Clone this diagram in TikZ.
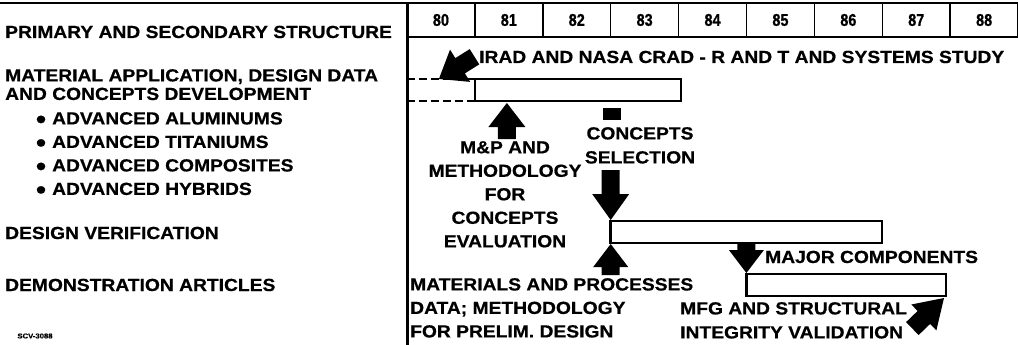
\documentclass[tikz,border=0pt]{standalone}
\usepackage{fontspec}
\setmainfont{Liberation Sans}[FakeStretch=1.1, BoldFeatures={FakeBold=0.6}]
\newfontfamily\yearfont{Liberation Sans}[FakeStretch=0.85, BoldFeatures={FakeBold=0.8}]
\usepackage{tikz}
\usetikzlibrary{positioning,calc}

\tikzset{
  lbl/.style={inner sep=0pt, font=\fontsize{17.5}{23.5}\selectfont\bfseries},
  bar/.style={draw, line width=2.5pt, inner sep=0pt, outer sep=0pt, minimum height=22pt, anchor=north west},
  yearcell/.style={draw, line width=1.5pt, inner sep=0pt, minimum width=67.9pt, minimum height=34pt,
    font=\yearfont\fontsize{17}{17}\selectfont\bfseries},
}

% block arrow: tip, direction, length, head length, head half width
\newcommand{\blockarrow}[5]{%
  \fill[shift={#1}, rotate=#2] (0,0) -- (-#4,#5) -- (-#4,9) -- (-#3,9)
    -- (-#3,-9) -- (-#4,-9) -- (-#4,-#5) -- cycle;}

\begin{document}
\begin{tikzpicture}[x=1pt, y=-1pt]
  \useasboundingbox (0,0) rectangle (1018,345);

  % frame and years
  \draw[line width=2.2pt] (0,3) -- (1018,3);
  \foreach \yr [count=\i from 0] in {80,...,88}
    \node[yearcell] (y\yr) at ({407+67.9*(\i+0.5)}, 20) {\yr};
  \draw[line width=3pt] (407,3) -- (407,345);

  % row labels
  \node[lbl, anchor=base west] (prim) at (5,38) {PRIMARY AND SECONDARY STRUCTURE};
  \node[lbl, anchor=north west, align=left, font=\fontsize{17.5}{18.5}\selectfont\bfseries] (matdev) at (5,69)
    {MATERIAL APPLICATION, DESIGN DATA\\AND CONCEPTS DEVELOPMENT};
  \node[lbl, anchor=north west, align=left] (alloys) at (35,112)
    {● ADVANCED ALUMINUMS\\● ADVANCED TITANIUMS\\● ADVANCED COMPOSITES\\● ADVANCED HYBRIDS};
  \node[lbl, anchor=base west] (desver) at (5,239) {DESIGN VERIFICATION};
  \node[lbl, anchor=base west] (demo) at (5,291) {DEMONSTRATION ARTICLES};
  \node[inner sep=0pt, font=\fontsize{7}{7}\selectfont\bfseries] (scv) at (35,336) {SCV-3088};

  % bars
  \node[bar, minimum width=206pt] (iradbar) at (474.9,79) {};
  \node[bar, minimum width=271.5pt] (designbar) at (610.7,221) {};
  \node[bar, minimum width=199.6pt] (demobar) at (746.4,274) {};
  \draw[line width=2pt, dash pattern=on 8pt off 4pt] (407,79) -- (iradbar.north west);
  \draw[line width=2pt, dash pattern=on 8pt off 4pt] (407,101) -- (iradbar.south west);

  % chart texts
  \node[lbl, anchor=base west] (irad) at (479,63) {IRAD AND NASA CRAD - R AND T AND SYSTEMS STUDY};
  \node[lbl, anchor=north, align=center] (mpeval) at (505,141)
    {M\&P AND\\METHODOLOGY\\FOR\\CONCEPTS\\EVALUATION};
  \node[lbl, anchor=north, align=center, font=\fontsize{17.5}{24}\selectfont\bfseries] (selection) at (640,127)
    {CONCEPTS\\SELECTION};
  \node[lbl, anchor=base west] (major) at (765,263) {MAJOR COMPONENTS};
  \node[lbl, anchor=north west, align=left] (matproc) at (410,278)
    {MATERIALS AND PROCESSES\\DATA; METHODOLOGY\\FOR PRELIM. DESIGN};
  \node[lbl, anchor=north west, align=left, font=\fontsize{17.5}{24}\selectfont\bfseries] (mfgval) at (680,302)
    {MFG AND STRUCTURAL\\INTEGRITY VALIDATION};

  % block arrows
  \blockarrow{($(iradbar.north west)+(-36,0)$)}{212}{42}{25}{19}
  \blockarrow{($(iradbar.south west)+(32,2)$)}{90}{36}{24}{18.5}
  \fill (603,108) rectangle (621,120);
  \blockarrow{($(designbar.north west)+(0,-1)$)}{-90}{50}{26}{18.5}
  \blockarrow{($(designbar.south west)+(0,1)$)}{90}{31}{23}{17.5}
  \blockarrow{($(demobar.north west)+(0,-1)$)}{-90}{30}{23}{17.5}
  \blockarrow{($(demobar.south east)+(-2,2)$)}{44}{44}{28}{18}
\end{tikzpicture}
\end{document}
